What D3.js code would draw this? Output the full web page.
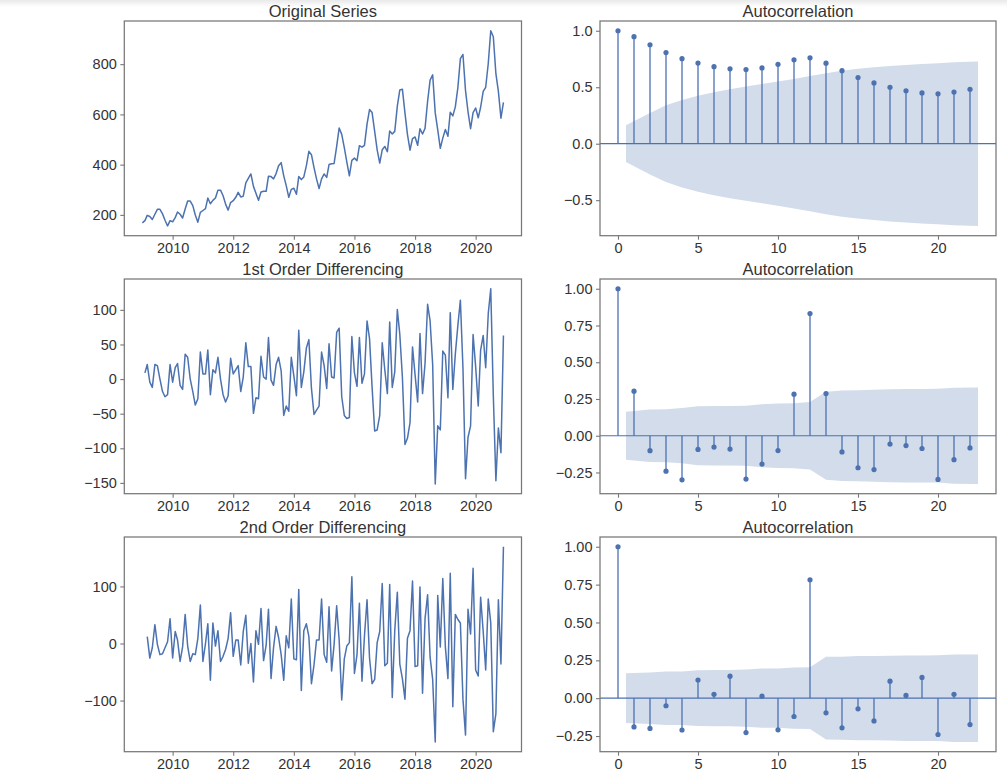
<!DOCTYPE html>
<html>
<head>
<meta charset="utf-8">
<script src="https://cdn.jsdelivr.net/npm/d3@7"></script>
<style>
  body { margin: 0; background: #fff; }
  text { font-family: "Liberation Sans", Arial, sans-serif; }
</style>
</head>
<body>
<div class="chart"></div>
<script>
// monthly series, Jan 2009 .. Dec 2020
const firstMonth = "2009-01-01";
const monthCount = 144;

const original = [
  168,177,198,193.5,181.5,202.5,222,222,204,178.5,156,177,
  172.5,189,211.5,202.5,187.5,223.5,255,255,237,199.5,171,210,
  217.5,225,267,244.5,258,267,298.5,298.5,276,243,219,249,
  256.5,270,289.5,271.5,274.5,327,345,363,313.5,286.5,258,291,
  294,294,354,352.5,343.5,364.5,396,408,355.5,316.5,270,301.5,
  306,282,352.5,340.5,351,396,453,439.5,388.5,343.5,304.5,343.5,
  363,349.5,400.5,403.5,405,472.5,546,520.5,468,411,355.5,417,
  426,415.5,475.5,469.5,477,561,619.5,607.5,532.5,459,406.5,459,
  472.5,451.5,534,522,532.5,633,697.5,700.5,606,520.5,457.5,504,
  510,477,543,522,544.5,652.5,736.5,757.5,606,538.5,465,505.5,
  540,513,609,594,630,708,822,838.5,694.5,610.5,543,607.5,
  625.5,586.5,628.5,691.5,708,802.5,933,909,762,691.5,585,648
];

// starts Feb 2009
const firstDiff = [
  9,21,-4.5,-12,21,19.5,0,-18,-25.5,-22.5,21,
  -4.5,16.5,22.5,-9,-15,36,31.5,0,-18,-37.5,-28.5,39,
  7.5,7.5,42,-22.5,13.5,9,31.5,0,-22.5,-33,-24,30,
  7.5,13.5,19.5,-18,3,52.5,18,18,-49.5,-27,-28.5,33,
  3,0,60,-1.5,-9,21,31.5,12,-52.5,-39,-46.5,31.5,
  4.5,-24,70.5,-12,10.5,45,57,-13.5,-51,-45,-39,39,
  19.5,-13.5,51,3,1.5,67.5,73.5,-25.5,-52.5,-57,-55.5,61.5,
  9,-10.5,60,-6,7.5,84,58.5,-12,-75,-73.5,-52.5,52.5,
  13.5,-21,82.5,-12,10.5,100.5,64.5,3,-94.5,-85.5,-63,46.5,
  6,-33,66,-21,22.5,108,84,21,-151.5,-67.5,-73.5,40.5,
  34.5,-27,96,-15,36,78,114,16.5,-144,-84,-67.5,64.5,
  18,-39,42,63,16.5,94.5,130.5,-24,-147,-70.5,-106.5,63
];

// starts Mar 2009
const secondDiff = [
  12,-25.5,-7.5,33,-1.5,-19.5,-18,-7.5,3,43.5,
  -25.5,21,6,-31.5,-6,51,-4.5,-31.5,-18,-19.5,9,67.5,
  -31.5,0,34.5,-64.5,36,-4.5,22.5,-31.5,-22.5,-10.5,9,54,
  -22.5,6,6,-37.5,21,49.5,-34.5,0,-67.5,22.5,-1.5,61.5,
  -30,-3,60,-61.5,-7.5,30,10.5,-19.5,-64.5,13.5,-7.5,78,
  -27,-28.5,94.5,-82.5,22.5,34.5,12,-70.5,-37.5,6,6,78,
  -19.5,-33,64.5,-48,-1.5,66,6,-99,-27,-4.5,1.5,117,
  -52.5,-19.5,70.5,-66,13.5,76.5,-25.5,-70.5,-63,1.5,21,105,
  -39,-34.5,103.5,-94.5,22.5,90,-36,-61.5,-97.5,9,22.5,109.5,
  -40.5,-39,99,-87,43.5,85.5,-24,-63,-172.5,84,-6,114,
  -6,-61.5,123,-111,51,42,36,-97.5,-160.5,60,16.5,132,
  -46.5,-57,81,21,-46.5,78,36,-154.5,-123,76.5,-36,169.5
];

// autocorrelation, lags 0..22
const acfOriginal = [1,0.948,0.876,0.807,0.753,0.714,0.682,0.663,0.656,0.671,0.703,0.743,0.760,0.713,0.647,0.586,0.538,0.500,0.469,0.450,0.442,0.457,0.482];
const acfFirstDiff = [1,0.303,-0.102,-0.241,-0.300,-0.093,-0.077,-0.091,-0.295,-0.193,-0.101,0.283,0.831,0.287,-0.110,-0.218,-0.230,-0.057,-0.067,-0.087,-0.297,-0.163,-0.083];
const acfSecondDiff = [1,-0.19,-0.20,-0.05,-0.21,0.12,0.026,0.145,-0.227,0.013,-0.209,-0.121,0.782,-0.097,-0.196,-0.07,-0.15,0.112,0.018,0.137,-0.24,0.026,-0.174];

// confidence band half width, lags 1..22
const bandOriginal = [0.163,0.273,0.340,0.388,0.425,0.456,0.482,0.506,0.528,0.550,0.574,0.599,0.624,0.646,0.663,0.676,0.688,0.697,0.706,0.713,0.721,0.728];
const bandFirstDiff = [0.164,0.178,0.180,0.188,0.201,0.202,0.203,0.204,0.215,0.220,0.221,0.230,0.300,0.308,0.309,0.313,0.317,0.318,0.318,0.319,0.326,0.328];
const bandSecondDiff = [0.164,0.170,0.177,0.177,0.184,0.186,0.186,0.189,0.196,0.196,0.202,0.204,0.273,0.274,0.278,0.278,0.280,0.282,0.282,0.283,0.289,0.289];

const yearTicks = [2010,2012,2014,2016,2018,2020];
const lagTicks = [0,5,10,15,20];
const ticksOriginal = [200,400,600,800];
const ticksFirstDiff = [-150,-100,-50,0,50,100];
const ticksSecondDiff = [-100,0,100];
const acfTicksTop = [-0.5,0,0.5,1];
const acfTicksLower = [-0.25,0,0.25,0.5,0.75,1];

const titles = ["Original Series","1st Order Differencing","2nd Order Differencing"];

const blue = "#4c72b0";
const textColor = "#333";
const spineColor = "#777";

const width = 1007, height = 782;
const colX = [[124.3, 521.5], [600, 996]];
const rowTop = [21, 279, 537];
const panelH = 214.7;

const svg = d3.select(".chart").append("svg")
    .attr("width", width)
    .attr("height", height);

// faint strip at the very top
const grad = svg.append("defs").append("linearGradient")
    .attr("id", "topfade").attr("x1", 0).attr("x2", 0).attr("y1", 0).attr("y2", 1);
grad.append("stop").attr("offset", 0).attr("stop-color", "#e9e9e9");
grad.append("stop").attr("offset", 1).attr("stop-color", "#fff");
svg.append("rect").attr("width", width).attr("height", 7).attr("fill", "url(#topfade)");

const months = d3.range(monthCount).map(i => d3.utcMonth.offset(new Date(firstMonth), i));

function padded(lo, hi) {
    const m = (hi - lo) * 0.05;
    return [lo - m, hi + m];
}

function styleAxis(g) {
    g.select(".domain").remove();
    g.selectAll(".tick line").attr("stroke", spineColor).attr("stroke-width", 1.1);
    g.selectAll(".tick text").attr("fill", textColor).style("font-size", "14.5px");
}

function frame(x0, x1, top, title) {
    svg.append("rect")
        .attr("x", x0).attr("y", top)
        .attr("width", x1 - x0).attr("height", panelH)
        .attr("fill", "none")
        .attr("stroke", spineColor)
        .attr("stroke-width", 1.25);
    svg.append("text")
        .text(title)
        .attr("x", (x0 + x1) / 2)
        .attr("y", top - 4.5)
        .attr("text-anchor", "middle")
        .attr("fill", textColor)
        .style("font-size", "16.5px");
}

function seriesPanel(row, values, yTicks) {
    const [x0, x1] = colX[0];
    const top = rowTop[row];
    const dates = months.slice(monthCount - values.length);

    const x = d3.scaleUtc()
        .domain(padded(+months[0], +months[monthCount - 1]))
        .range([x0, x1]);
    const ext = d3.extent(values);
    const y = d3.scaleLinear()
        .domain(padded(ext[0], ext[1]))
        .range([top + panelH, top]);

    const line = d3.line()
        .x((d, i) => x(dates[i]))
        .y(d => y(d));

    svg.append("path")
        .datum(values)
        .attr("d", line)
        .attr("fill", "none")
        .attr("stroke", blue)
        .attr("stroke-width", 1.5)
        .attr("stroke-linejoin", "round");

    svg.append("g")
        .attr("transform", "translate(" + x0 + ",0)")
        .call(d3.axisLeft(y).tickValues(yTicks).tickSize(4).tickPadding(3.5).tickFormat(d3.format("d")))
        .call(styleAxis);

    svg.append("g")
        .attr("transform", "translate(0," + (top + panelH) + ")")
        .call(d3.axisBottom(x)
            .tickValues(yearTicks.map(yr => new Date(Date.UTC(yr, 0, 1))))
            .tickSize(4).tickPadding(3.5)
            .tickFormat(d3.utcFormat("%Y")))
        .call(styleAxis);

    frame(x0, x1, top, titles[row]);
}

function acfPanel(row, acf, band, yTicks, fmt) {
    const [x0, x1] = colX[1];
    const top = rowTop[row];
    const lags = d3.range(acf.length);

    const x = d3.scaleLinear()
        .domain(padded(0, lags.length - 0.5))
        .range([x0, x1]);
    const lo = Math.min(d3.min(acf), -d3.max(band));
    const hi = Math.max(d3.max(acf), d3.max(band));
    const y = d3.scaleLinear()
        .domain(padded(lo, hi))
        .range([top + panelH, top]);

    // band drawn from lag 0.5 to the last lag + 0.5
    const last = band.length - 1;
    const area = d3.area()
        .x((d, i) => x(i === 0 ? 0.5 : i === last ? i + 1.5 : i + 1))
        .y0(d => y(-d))
        .y1(d => y(d));

    svg.append("path")
        .datum(band)
        .attr("d", area)
        .attr("fill", blue)
        .attr("fill-opacity", 0.25);

    svg.append("line")
        .attr("x1", x0).attr("x2", x1)
        .attr("y1", y(0)).attr("y2", y(0))
        .attr("stroke", blue)
        .attr("stroke-width", 1.2);

    svg.append("g").selectAll("line")
        .data(acf)
        .enter()
        .append("line")
        .attr("x1", (d, i) => x(i)).attr("x2", (d, i) => x(i))
        .attr("y1", y(0)).attr("y2", d => y(d))
        .attr("stroke", blue)
        .attr("stroke-width", 1.3);

    svg.append("g").selectAll("circle")
        .data(acf)
        .enter()
        .append("circle")
        .attr("cx", (d, i) => x(i))
        .attr("cy", d => y(d))
        .attr("r", 2.6)
        .attr("fill", blue);

    svg.append("g")
        .attr("transform", "translate(" + x0 + ",0)")
        .call(d3.axisLeft(y).tickValues(yTicks).tickSize(4).tickPadding(3.5).tickFormat(d3.format(fmt)))
        .call(styleAxis);

    svg.append("g")
        .attr("transform", "translate(0," + (top + panelH) + ")")
        .call(d3.axisBottom(x).tickValues(lagTicks).tickSize(4).tickPadding(3.5).tickFormat(d3.format("d")))
        .call(styleAxis);

    frame(x0, x1, top, "Autocorrelation");
}

seriesPanel(0, original, ticksOriginal);
seriesPanel(1, firstDiff, ticksFirstDiff);
seriesPanel(2, secondDiff, ticksSecondDiff);

acfPanel(0, acfOriginal, bandOriginal, acfTicksTop, ".1f");
acfPanel(1, acfFirstDiff, bandFirstDiff, acfTicksLower, ".2f");
acfPanel(2, acfSecondDiff, bandSecondDiff, acfTicksLower, ".2f");
</script>
</body>
</html>
